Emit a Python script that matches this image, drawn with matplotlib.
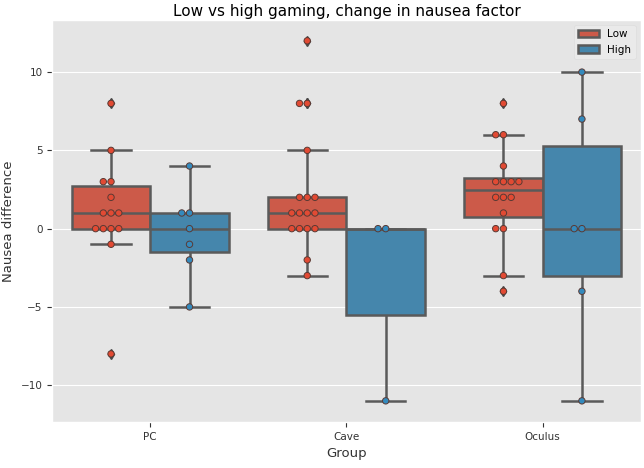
import pandas as pd
import matplotlib
matplotlib.use("Agg")
import matplotlib.pyplot as plt
import seaborn as sns

# nausea difference per participant
groups = ["PC", "Cave", "Oculus"]
gaming_levels = ["Low", "High"]

pc_low = [8, 5, 3, 3, 2, 1, 1, 1, 0, 0, 0, 0, -1, -8]
pc_high = [4, 1, 1, 0, -1, -2, -5]
cave_low = [12, 8, 8, 5, 2, 2, 2, 1, 1, 1, 1, 0, 0, 0, 0, -2, -3]
cave_high = [0, 0, -11]
oculus_low = [8, 6, 6, 4, 3, 3, 3, 3, 2, 2, 2, 1, 0, 0, -3, -4]
oculus_high = [10, 7, 0, 0, -4, -11]

palette = ["#E24A33", "#348ABD"]


def build_frame():
    rows = []
    series = {
        ("PC", "Low"): pc_low, ("PC", "High"): pc_high,
        ("Cave", "Low"): cave_low, ("Cave", "High"): cave_high,
        ("Oculus", "Low"): oculus_low, ("Oculus", "High"): oculus_high,
    }
    for (group, level), values in series.items():
        for v in values:
            rows.append({"Group": group, "Gaming": level, "Nausea difference": v})
    return pd.DataFrame(rows)


df = build_frame()

plt.style.use("ggplot")
fig = plt.figure(figsize=(6.44, 4.68), dpi=100)
ax = fig.add_axes([0.081, 0.098, 0.914, 0.859])

sns.boxplot(data=df, x="Group", y="Nausea difference", hue="Gaming",
            order=groups, hue_order=gaming_levels, palette=palette,
            linewidth=1.8, linecolor="#5a5a5a",
            flierprops=dict(marker="d", markersize=5,
                            markerfacecolor="#4a4a4a", markeredgecolor="#4a4a4a"),
            ax=ax)
sns.swarmplot(data=df, x="Group", y="Nausea difference", hue="Gaming",
              order=groups, hue_order=gaming_levels, palette=palette,
              dodge=True, size=4.6, linewidth=0.7, edgecolor="#5a3a34",
              legend=False, ax=ax)

ax.set_ylim(-12.36, 13.32)
ax.set_yticks([-10, -5, 0, 5, 10])
ax.tick_params(labelsize=7.5, colors="#333333")
ax.set_title("Low vs high gaming, change in nausea factor", fontsize=11, color="black", pad=3)
ax.set_xlabel("Group", fontsize=9.5, color="#333333")
ax.set_ylabel("Nausea difference", fontsize=9.5, color="#333333")
leg = ax.legend(loc="upper right", fontsize=7.5, title=None, facecolor="#EAEAEA",
                edgecolor="#DDDDDD", framealpha=1)

fig.savefig("out.png", dpi=100)
